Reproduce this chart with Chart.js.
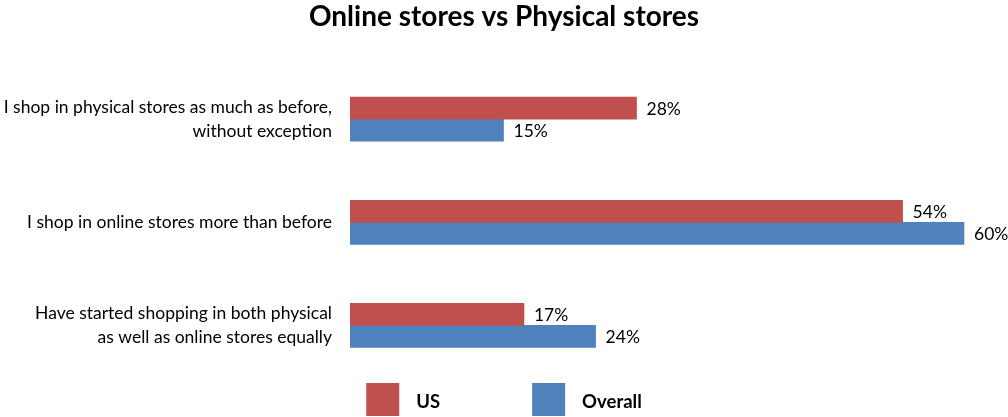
<!DOCTYPE html>
<html>
<head>
<meta charset="utf-8">
<script src="https://cdn.jsdelivr.net/npm/chart.js@4"></script>
<style>
  html, body { margin: 0; padding: 0; background: #fff; }
  #wrap { width: 1008px; height: 417px; }
</style>
</head>
<body>
<div id="wrap"><canvas id="chart"></canvas></div>
<script>
const categories = [
    ['I shop in physical stores as much as before,', 'without exception'],
    'I shop in online stores more than before',
    ['Have started shopping in both physical', 'as well as online stores equally']
];
const usValues = [28, 54, 17];
const overallValues = [15, 60, 24];
const seriesNames = ['US', 'Overall'];
const seriesColors = ['#C0504D', '#4F81BD'];

const FONT = 'Lato, "Noto Sans", sans-serif';

// percent text at the end of each bar
const valueLabels = {
    id: 'valueLabels',
    afterDatasetsDraw(chart) {
        const ctx = chart.ctx;
        ctx.save();
        ctx.font = '17.5px ' + FONT;
        ctx.fillStyle = '#000';
        ctx.textAlign = 'left';
        ctx.textBaseline = 'middle';
        chart.data.datasets.forEach((ds, i) => {
            chart.getDatasetMeta(i).data.forEach((bar, j) => {
                ctx.fillText(ds.data[j] + '%', bar.x + 10, bar.y + 1);
            });
        });
        ctx.restore();
    }
};

// big square legend under the bars
const squareLegend = {
    id: 'squareLegend',
    afterDraw(chart) {
        const ctx = chart.ctx;
        const box = 33, gap = 17, spacing = 92;
        ctx.save();
        ctx.font = 'bold 18.5px ' + FONT;
        const items = chart.data.datasets.map(ds => ({
            text: ds.label, color: ds.backgroundColor,
            w: box + gap + ctx.measureText(ds.label).width
        }));
        const total = items.reduce((a, it) => a + it.w, 0) + spacing * (items.length - 1);
        let x = (chart.width - total) / 2;
        const top = chart.height - 34;
        items.forEach(it => {
            ctx.fillStyle = it.color;
            ctx.fillRect(x, top, box, box);
            ctx.fillStyle = '#000';
            ctx.textBaseline = 'middle';
            ctx.fillText(it.text, x + box + gap, top + 19);
            x += it.w + spacing;
        });
        ctx.restore();
    }
};

new Chart(document.getElementById('chart'), {
    type: 'bar',
    data: {
        labels: categories,
        datasets: [
            { label: seriesNames[0], data: usValues, backgroundColor: seriesColors[0], barThickness: 22 },
            { label: seriesNames[1], data: overallValues, backgroundColor: seriesColors[1], barThickness: 22 }
        ]
    },
    options: {
        indexAxis: 'y',
        responsive: true,
        maintainAspectRatio: false,
        animation: false,
        layout: { padding: { top: 0, right: 0, bottom: 40, left: 0 } },
        plugins: {
            legend: { display: false },
            tooltip: { enabled: false },
            title: {
                display: true,
                text: 'Online stores vs Physical stores',
                color: '#000',
                font: { family: FONT, size: 28, weight: 'bold' },
                padding: { top: 0, bottom: 34 }
            }
        },
        scales: {
            x: {
                display: false,
                min: 0,
                max: 64.3   // leaves room for the 60% label on the right
            },
            y: {
                grid: { display: false },
                border: { display: false },
                ticks: {
                    color: '#000',
                    padding: 10,
                    font: { family: FONT, size: 17.5, lineHeight: 1.37 }
                },
                afterFit(scale) { scale.width = 350; }
            }
        }
    },
    plugins: [valueLabels, squareLegend]
});
</script>
</body>
</html>
